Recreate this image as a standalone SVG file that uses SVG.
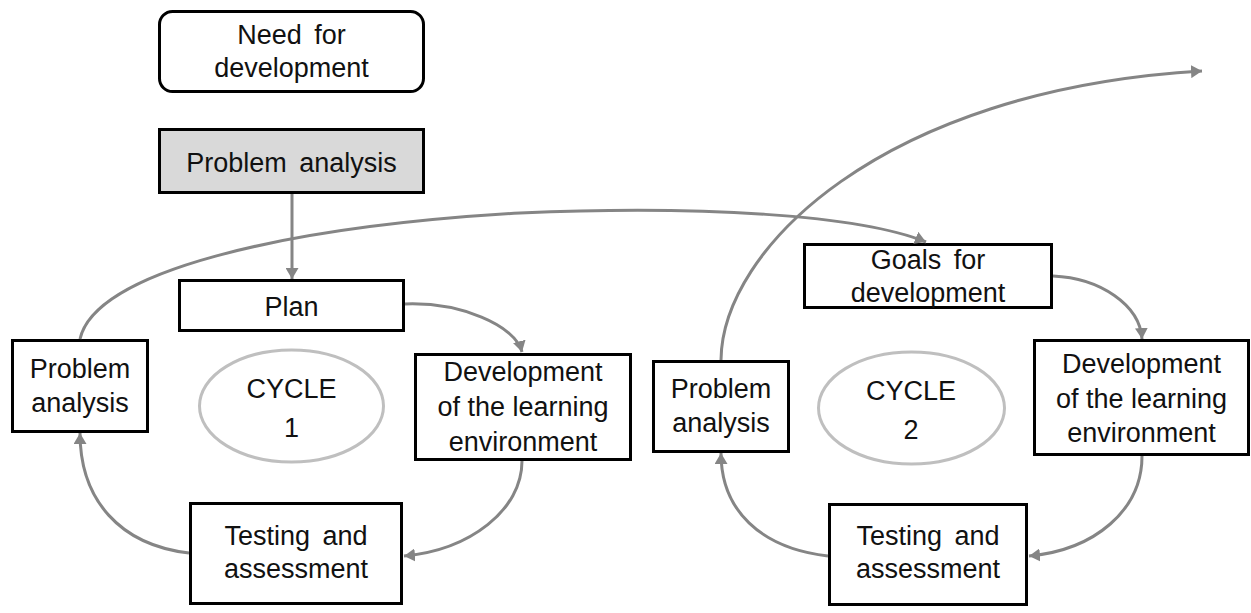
<svg xmlns="http://www.w3.org/2000/svg" width="1251" height="613" viewBox="0 0 1251 613">
  <style>
    .box { fill: #ffffff; stroke: #000000; stroke-width: 3; }
    .shaded { fill: #d9d9d9; }
    .cycle { fill: none; stroke: #bfbfbf; stroke-width: 3; }
    .label { font-family: "Liberation Sans", Arial, sans-serif; font-size: 27px; fill: #111111; text-anchor: middle; }
    .wide { word-spacing: 5px; }
    .link { fill: none; stroke: #858585; stroke-width: 3; marker-end: url(#arrow); }
  </style>
  <defs>
    <marker id="arrow" markerUnits="userSpaceOnUse" markerWidth="12" markerHeight="13" refX="11" refY="6.5" orient="auto">
      <path d="M0,0 L11,6.5 L0,13 z" fill="#858585"/>
    </marker>
  </defs>
  <rect width="1251" height="613" fill="#ffffff"/>

  <g id="need-for-development">
    <rect class="box" x="159.5" y="11.5" width="264" height="80" rx="13"/>
    <text class="label wide" x="291.5" y="44">Need for</text>
    <text class="label" x="291.5" y="77">development</text>
  </g>

  <g id="problem-analysis-start">
    <rect class="box shaded" x="159.5" y="129.5" width="264" height="63"/>
    <text class="label wide" x="291.5" y="172">Problem analysis</text>
  </g>

  <!-- Cycle 1 -->
  <g id="plan">
    <rect class="box" x="179.5" y="280.5" width="224" height="50"/>
    <text class="label" x="291.5" y="316">Plan</text>
  </g>

  <g id="development-1">
    <rect class="box" x="415.5" y="354.5" width="215" height="105"/>
    <text class="label" x="523" y="381">Development</text>
    <text class="label" x="523" y="416">of the learning</text>
    <text class="label" x="523" y="451">environment</text>
  </g>

  <g id="testing-1">
    <rect class="box" x="190.5" y="503.5" width="211" height="100"/>
    <text class="label wide" x="296" y="545">Testing and</text>
    <text class="label" x="296" y="578">assessment</text>
  </g>

  <g id="problem-analysis-1">
    <rect class="box" x="12.5" y="340.5" width="135" height="91"/>
    <text class="label" x="80" y="378">Problem</text>
    <text class="label" x="80" y="412">analysis</text>
  </g>

  <g id="cycle-1">
    <ellipse class="cycle" cx="291.5" cy="406" rx="92" ry="56"/>
    <text class="label" x="291.5" y="398">CYCLE</text>
    <text class="label" x="291.5" y="437">1</text>
  </g>

  <!-- Cycle 2 -->
  <g id="goals">
    <rect class="box" x="804.5" y="244.5" width="247" height="63"/>
    <text class="label wide" x="928" y="269">Goals for</text>
    <text class="label" x="928" y="302">development</text>
  </g>

  <g id="development-2">
    <rect class="box" x="1034.5" y="340.5" width="214" height="114"/>
    <text class="label" x="1141.5" y="373">Development</text>
    <text class="label" x="1141.5" y="408">of the learning</text>
    <text class="label" x="1141.5" y="442">environment</text>
  </g>

  <g id="testing-2">
    <rect class="box" x="829.5" y="504.5" width="197" height="100"/>
    <text class="label wide" x="928" y="545">Testing and</text>
    <text class="label" x="928" y="578">assessment</text>
  </g>

  <g id="problem-analysis-2">
    <rect class="box" x="653.5" y="361.5" width="135" height="90"/>
    <text class="label" x="721" y="398">Problem</text>
    <text class="label" x="721" y="432">analysis</text>
  </g>

  <g id="cycle-2">
    <ellipse class="cycle" cx="911.5" cy="408" rx="93" ry="56"/>
    <text class="label" x="911" y="400">CYCLE</text>
    <text class="label" x="911" y="439">2</text>
  </g>

  <g id="connectors">
    <path class="link" d="M292 194 L292 279"/>
    <path class="link" d="M405 304 C460 302, 515 325, 522 352"/>
    <path class="link" d="M522 461 C522 510, 470 550, 404 556"/>
    <path class="link" d="M189 553 C120 545, 80 500, 80 433"/>
    <path class="link" d="M80 339 C95 272, 280 227, 520 213 C700 205, 860 215, 926 242"/>
    <path class="link" d="M1053 276 C1100 278, 1140 305, 1142 339"/>
    <path class="link" d="M1142 456 C1142 510, 1095 550, 1029 556"/>
    <path class="link" d="M828 556 C760 548, 721 510, 721 453"/>
    <path class="link" d="M721 360 C722 250, 880 90, 1202 71"/>
  </g>
</svg>
